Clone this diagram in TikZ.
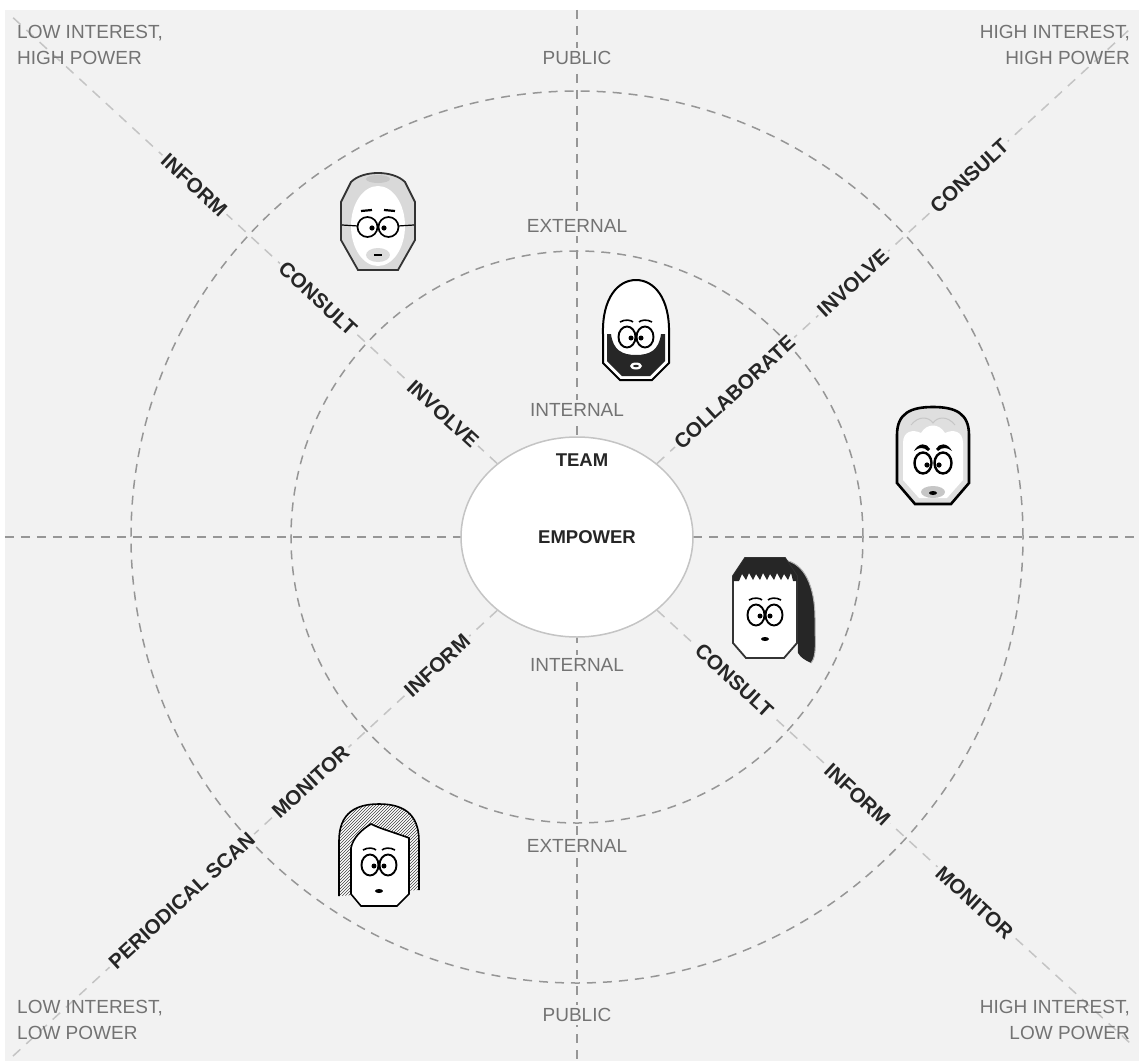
\documentclass[tikz,border=0pt]{standalone}
\usepackage{fontspec}
\setmainfont{Liberation Sans}
\usepackage{tikz}
\usetikzlibrary{positioning, shapes.geometric, backgrounds, patterns, calc}

\definecolor{panel}{RGB}{242,242,242}
\definecolor{ringgray}{RGB}{150,150,150}
\definecolor{spokegray}{RGB}{196,196,196}
\definecolor{zonegray}{RGB}{115,115,115}
\definecolor{inkgray}{RGB}{38,38,38}

\tikzset{
  ring/.style={draw=ringgray, dash pattern=on 9pt off 7pt, line width=1.5pt},
  spoke/.style={draw=spokegray, dash pattern=on 10pt off 8pt, line width=1.5pt},
  core/.style={ellipse, draw=spokegray, fill=white, line width=1.5pt,
    minimum width=232pt, minimum height=200pt, inner sep=0pt},
  zone/.style={text=zonegray, fill=panel, inner sep=3pt,
    font=\fontsize{19}{22}\selectfont},
  teamtext/.style={text=inkgray, inner sep=2pt,
    font=\bfseries\fontsize{18.5}{22}\selectfont},
  action/.style={text=inkgray, fill=panel, inner sep=3pt,
    font=\bfseries\fontsize{20.5}{24}\selectfont},
  quadrant/.style={text=zonegray, inner sep=0pt,
    font=\fontsize{19}{26}\selectfont},
  % cartoon faces
  eyes/.pic={
    \draw[line width=1.9pt, fill=white] (-9,0) ellipse[x radius=8.5, y radius=10.5]
      (9,0) ellipse[x radius=8.5, y radius=10.5];
    \fill (-5,-1) circle[radius=2.5] (5,-1) circle[radius=2.5];
    \draw[line width=1.6pt] (-16,15) .. controls (-11,18) and (-5,17) .. (-3,15)
      (3,15) .. controls (5,17) and (11,18) .. (16,15);
  },
  baldglasses/.pic={
    \fill[gray!30] (-20,-48) -- (20,-48) -- (37,-18) -- (37,20) -- (27,40)
      .. controls (15,52) and (-15,52) .. (-27,40) -- (-37,20) -- (-37,-18) -- cycle;
    \fill[white] (0,-4) ellipse[x radius=27, y radius=40];
    \fill[gray!45] (0,43) ellipse[x radius=12, y radius=4];
    \fill[gray!28] (0,-33) ellipse[x radius=12, y radius=7];
    \draw[black!80, line width=1.8pt] (-20,-48) -- (20,-48) -- (37,-18) -- (37,20) -- (27,40)
      .. controls (15,52) and (-15,52) .. (-27,40) -- (-37,20) -- (-37,-18) -- cycle;
    \draw[line width=1.2pt] (-36,-3) -- (-20,-4) (20,-4) -- (36,-3);
    \draw[line width=1.7pt, fill=white] (-10.5,-5) circle[radius=10] (10.5,-5) circle[radius=10];
    \fill (-6,-6) circle[radius=2.6] (6,-6) circle[radius=2.6];
    \draw[line width=2.2pt] (-17,11) -- (-6,12) (6,12) -- (17,11);
    \draw[line width=1.4pt] (-4,-33) -- (4,-33);
  },
  beardman/.pic={
    \draw[line width=2pt, fill=white] (-16,-48) -- (16,-48) -- (33,-31) -- (33,-2)
      .. controls (34,34) and (18,52) .. (0,52) .. controls (-18,52) and (-34,34) .. (-33,-2)
      -- (-33,-31) -- cycle;
    \fill[black!85] (-29,-2) -- (-29,-29) -- (-14,-44) -- (14,-44) -- (29,-29) -- (29,-2)
      -- (25,-2) .. controls (23,-18) and (14,-23) .. (0,-23)
      .. controls (-14,-23) and (-23,-18) .. (-25,-2) -- cycle;
    \fill[white] (0,-34) ellipse[x radius=6, y radius=3.5];
    \fill[black!85] (0,-34) ellipse[x radius=3, y radius=1.2];
    \pic at (0,-5) {eyes};
  },
  whitehair/.pic={
    \draw[line width=2.6pt, fill=gray!25] (-18,-47) -- (18,-47) -- (36,-26) -- (36,22)
      .. controls (36,44) and (22,50) .. (0,50) .. controls (-22,50) and (-36,44) .. (-36,22)
      -- (-36,-26) -- cycle;
    \fill[white] (-14,-41) -- (14,-41) -- (30,-23) -- (30,14)
      .. controls (30,26) and (20,28) .. (12,24) .. controls (6,34) and (-6,34) .. (-12,24)
      .. controls (-20,28) and (-30,26) .. (-30,14) -- (-30,-23) -- cycle;
    \draw[gray!45, line width=1pt] (-22,32) .. controls (-14,42) and (-4,40) .. (0,34)
      .. controls (4,40) and (14,42) .. (22,32);
    \draw[line width=2.4pt, fill=white] (-10,-6) ellipse[x radius=8.5, y radius=10.5]
      (10,-6) ellipse[x radius=8.5, y radius=10.5];
    \fill (-6,-8) circle[radius=2.6] (6,-8) circle[radius=2.6];
    \fill (-19,6) .. controls (-14,15) and (-6,14) .. (-3,8) -- (-5,6)
      .. controls (-9,10) and (-14,10) .. (-19,6) -- cycle;
    \fill (19,6) .. controls (14,15) and (6,14) .. (3,8) -- (5,6)
      .. controls (9,10) and (14,10) .. (19,6) -- cycle;
    \fill[gray!45] (0,-35) ellipse[x radius=12, y radius=6];
    \fill (0,-36) ellipse[x radius=4, y radius=2];
  },
  bangsgirl/.pic={
    \fill[black!85] (18,48) .. controls (40,46) and (50,20) .. (50,-10)
      .. controls (50,-35) and (52,-48) .. (46,-55) .. controls (40,-52) and (36,-50) .. (33,-45)
      -- (32,30) -- cycle;
    \draw[gray!60, line width=1pt] (18,48) .. controls (40,46) and (50,20) .. (50,-10)
      .. controls (50,-35) and (52,-48) .. (46,-55);
    \draw[black!80, line width=1.8pt, fill=white] (-19,-50) -- (19,-50) -- (32,-35) -- (32,32)
      -- (20,50) -- (-20,50) -- (-32,32) -- (-32,-35) -- cycle;
    \fill[black!85] (-32,32) -- (-20,50) -- (20,50) -- (32,32) -- (32,27) -- (28,27) -- (26,35)
      -- (23,28) -- (19,34) -- (16,28) -- (12,35) -- (9,28) -- (5,34) -- (2,28) -- (-2,35)
      -- (-5,28) -- (-9,34) -- (-12,28) -- (-16,35) -- (-19,28) -- (-23,34) -- (-26,27)
      -- (-32,27) -- cycle;
    \pic at (0,-7) {eyes};
    \fill (0,-31) ellipse[x radius=4, y radius=2];
  },
  stripedboy/.pic={
    \fill[white] (-40,-40) -- (-40,15) .. controls (-40,44) and (-22,52) .. (0,52)
      .. controls (22,52) and (40,44) .. (40,15) -- (40,-34) -- cycle;
    \fill[pattern=north east lines, pattern color=black!75] (-40,-40) -- (-40,15)
      .. controls (-40,44) and (-22,52) .. (0,52) .. controls (22,52) and (40,44) .. (40,15)
      -- (40,-34) -- cycle;
    \draw[line width=1.6pt] (-40,-40) -- (-40,15) .. controls (-40,44) and (-22,52) .. (0,52)
      .. controls (22,52) and (40,44) .. (40,15) -- (40,-34);
    \draw[line width=1.6pt, fill=white] (-18,-50) -- (18,-50) -- (30,-38) -- (30,18)
      .. controls (14,24) and (2,27) .. (-8,32) .. controls (-18,26) and (-26,18) .. (-28,8)
      -- (-28,-38) -- cycle;
    \pic at (0,-9) {eyes};
    \fill (0,-35) ellipse[x radius=4, y radius=2];
  }
}

\begin{document}
\begin{tikzpicture}[x=1pt, y=1pt]
\useasboundingbox (-577,-524) rectangle (562,537);

% centre: the team
\node[core] (team) at (0,0) {};
\node[teamtext] (teamname) at (5,77) {TEAM};
\node[teamtext] (empower) at (10,0) {EMPOWER};

% zones along the vertical axis
\node[zone] (publicN) at (0,479) {PUBLIC};
\node[zone] (externalN) at (0,311) {EXTERNAL};
\node[zone] (internalN) at (0,127) {INTERNAL};
\node[zone] (internalS) at (0,-128) {INTERNAL};
\node[zone] (externalS) at (0,-309) {EXTERNAL};
\node[zone] (publicS) at (0,-478) {PUBLIC};

% quadrant captions
\node[quadrant, anchor=north west, align=left] (lowhigh) at (-560,512) {LOW INTEREST,\\HIGH POWER};
\node[quadrant, anchor=north east, align=right] (highhigh) at (553,512) {HIGH INTEREST,\\HIGH POWER};
\node[quadrant, anchor=north west, align=left] (lowlow) at (-560,-463) {LOW INTEREST,\\LOW POWER};
\node[quadrant, anchor=north east, align=right] (highlow) at (553,-463) {HIGH INTEREST,\\LOW POWER};

% ends of the axes and spokes
\coordinate (north) at (0,527);
\coordinate (south) at (0,-524);
\coordinate (west) at (-572,0);
\coordinate (east) at (562,0);
\coordinate (nw) at (-569,524);
\coordinate (ne) at (553,508);
\coordinate (sw) at (-565,-520);
\coordinate (se) at (553,-506);

% low interest, high power
\node[action, rotate=-42.6] (nwInvolve) at (137.4:182) {INVOLVE};
\node[action, rotate=-42.6] (nwConsult) at (137.4:352) {CONSULT};
\node[action, rotate=-42.6] (nwInform) at (137.4:520) {INFORM};
% high interest, high power
\node[action, rotate=42.6] (neCollaborate) at (42.6:214) {COLLABORATE};
\node[action, rotate=42.6] (neInvolve) at (42.6:375) {INVOLVE};
\node[action, rotate=42.6] (neConsult) at (42.6:533) {CONSULT};
% low interest, low power
\node[action, rotate=42.6] (swInform) at (222.6:190) {INFORM};
\node[action, rotate=42.6] (swMonitor) at (222.6:362) {MONITOR};
\node[action, rotate=42.6] (swScan) at (222.6:537) {PERIODICAL SCAN};
% high interest, low power
\node[action, rotate=-42.6] (seConsult) at (-42.4:213) {CONSULT};
\node[action, rotate=-42.6] (seInform) at (-42.6:381) {INFORM};
\node[action, rotate=-42.6] (seMonitor) at (-42.6:540) {MONITOR};

% stakeholders
\pic (sponsor) at (-199,315) {baldglasses};
\pic (lead) at (59,205) {beardman};
\pic (expert) at (356,80) {whitehair};
\pic (member) at (188,-71) {bangsgirl};
\pic (user) at (-198,-319) {stripedboy};

\begin{scope}[on background layer]
  \fill[panel] (-572,-524) rectangle (562,527);
  \draw[ring] (team.center) circle[radius=286];
  \draw[ring] (team.center) circle[radius=446];
  \draw[ring] (north) -- (south);
  \draw[ring] (west) -- (east);
  \draw[spoke] (team) -- (nw);
  \draw[spoke] (team) -- (ne);
  \draw[spoke] (team) -- (sw);
  \draw[spoke] (team) -- (se);
\end{scope}
\end{tikzpicture}
\end{document}
